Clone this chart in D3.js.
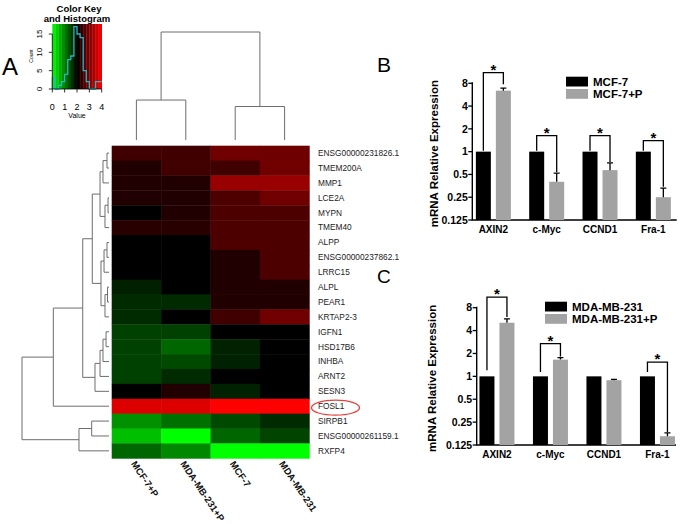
<!DOCTYPE html>
<html><head><meta charset="utf-8">
<script src="https://cdn.jsdelivr.net/npm/d3@7"></script>
<style>body{margin:0;background:#fff} svg{display:block} text{font-family:"Liberation Sans",Arial,sans-serif}</style>
</head><body><svg id="c" width="685" height="524"></svg>
<script>
// ---------------- DATA ----------------
const rowLabels = ["ENSG00000231826.1","TMEM200A","MMP1","LCE2A","MYPN","TMEM40","ALPP","ENSG00000237862.1","LRRC15","ALPL","PEAR1","KRTAP2-3","IGFN1","HSD17B6","INHBA","ARNT2","SESN3","FOSL1","SIRPB1","ENSG00000261159.1","RXFP4"];
const colLabels = ["MCF-7+P","MDA-MB-231+P","MCF-7","MDA-MB-231"];
const heatValues = [
  [2.5, 2.5, 2.88, 2.86],
  [2.25, 2.5, 2.5, 2.88],
  [2.25, 2.25, 3.2, 3.2],
  [2.25, 2.25, 2.6, 2.88],
  [2.0, 2.25, 2.6, 2.6],
  [2.32, 2.32, 2.6, 2.6],
  [2.0, 2.0, 2.6, 2.6],
  [2.0, 2.0, 2.25, 2.6],
  [2.0, 2.0, 2.25, 2.6],
  [1.75, 2.0, 2.25, 2.25],
  [1.67, 1.67, 2.25, 2.25],
  [1.67, 2.0, 2.5, 2.88],
  [1.5, 1.5, 2.0, 2.0],
  [1.5, 1.2, 1.73, 2.0],
  [1.5, 1.42, 1.73, 2.0],
  [1.5, 1.67, 2.0, 2.0],
  [2.0, 2.25, 1.73, 2.0],
  [3.73, 3.73, 4.0, 4.0],
  [0.87, 1.12, 1.42, 1.67],
  [0.5, 0.0, 1.2, 1.47],
  [1.2, 0.93, 0.0, 0.0]
];
// row dendrogram: [mergeHeight, left, right]; leaves are row indices
const rowTree = [10,
  [6.4,
    [3.02,
      [1.92,
        [1.03, [0.69, [0.23, 0, 1], 2], [0.46, [0.11, 3, 4], 5]],
        [0.92, [0.57, [0.23, 6, 7], 8], [0.46, [0.17, 9, 10], 11]]
      ],
      [1.61, [1.03, [0.69, [0.34, 12, 13], 14], 15], 16]
    ],
    17
  ],
  [3.45, [1.99, 18, 19], 20]
];
const colTree = [10, [3.7, 0, 1], [3.1, 2, 3]];
const histBreaks = [0,0.25,0.5,0.75,1,1.25,1.5,1.75,2,2.25,2.5,2.75,3,3.25,3.5,3.75,4];
const histCounts = [3,0,1,2,4,8,9,17,15,14,5,2,0,0,2,2];
const keyTicksX = [0,1,2,3,4];
const keyTicksY = [0,5,10,15];

const geneCats = ["AXIN2","c-Myc","CCND1","Fra-1"];
const yTicksBar = [0.125,0.25,0.5,1,2,4,8];
const yTickLabels = ["0.125","0.25","0.5","1","2","4","8"];
// panel B
const mcf7 = [1,1,1,1];
const mcf7P = [6.4,0.40,0.57,0.25];
const mcf7PErr = [6.9,0.52,0.71,0.33];
const bBracket = [11.1,1.63,1.63,1.4];
const bLeftLeg = [1.03,1.03,1.03,1.03];
const bRightLeg = [7.8,0.54,0.73,0.345];
// panel C
const mda = [1,1,1,1];
const mdaP = [5.07,1.66,0.89,0.163];
const mdaPErr = [5.7,1.76,0.91,0.18];
const cBracket = [11.0,2.69,null,1.54];
const cLeftLeg = [1.2,1.14,null,1.14];
const cRightLeg = [6.05,1.82,null,0.186];

// ---------------- DRAW ----------------
const svg = d3.select("#c");

// ---- heatmap ----
const hx = d3.scaleBand().domain(d3.range(colLabels.length)).range([111.7, 309.3]);
const hy = d3.scaleBand().domain(d3.range(rowLabels.length)).range([145.7, 458.3]);
const heatColor = d3.scaleLinear().domain([0,2,4]).range(["#00ff00","#000000","#ff0000"]);

const gH = svg.append("g");
heatValues.forEach((row, i) => {
  row.forEach((v, j) => {
    gH.append("rect").attr("x", hx(j)).attr("y", hy(i))
      .attr("width", hx.bandwidth() + 0.4).attr("height", hy.bandwidth() + 0.4)
      .attr("fill", heatColor(v));
  });
});

// row labels
rowLabels.forEach((t, i) => {
  svg.append("text").attr("x", 318).attr("y", hy(i) + hy.bandwidth()/2)
    .attr("dy", "0.35em").attr("font-size", 8.3).attr("fill", "#222").text(t);
});
// FOSL1 ellipse
const fi = rowLabels.indexOf("FOSL1");
svg.append("ellipse").attr("cx", 335.5).attr("cy", hy(fi) + hy.bandwidth()/2 + 1.5)
  .attr("rx", 24).attr("ry", 7.5).attr("fill", "none").attr("stroke", "#e8403a").attr("stroke-width", 1.3);

// column labels
colLabels.forEach((t, j) => {
  svg.append("text")
    .attr("transform", `translate(${hx(j) + hx.bandwidth()/2 - 3},${462}) rotate(56)`)
    .attr("dy", "0.35em").attr("font-size", 9.5).attr("font-weight", "bold").attr("fill", "#111").text(t);
});

// ---- dendrograms ----
const rowH = d3.scaleLinear().domain([0, 10]).range([109, 22]);
const colH = d3.scaleLinear().domain([0, 10]).range([140, 32]);
const gD = svg.append("g").attr("stroke", "#6d6d6d").attr("stroke-width", 1).attr("fill", "none");

function drawRow(node) {
  if (typeof node === "number") return {p: hy(node) + hy.bandwidth()/2, h: 0};
  const [h, a, b] = node;
  const A = drawRow(a), B = drawRow(b);
  const x = rowH(h);
  gD.append("path").attr("d", `M${rowH(A.h)},${A.p}H${x}V${B.p}H${rowH(B.h)}`);
  return {p: (A.p + B.p)/2, h};
}
drawRow(rowTree);
function drawCol(node) {
  if (typeof node === "number") return {p: hx(node) + hx.bandwidth()/2, h: 0};
  const [h, a, b] = node;
  const A = drawCol(a), B = drawCol(b);
  const y = colH(h);
  gD.append("path").attr("d", `M${A.p},${colH(A.h)}V${y}H${B.p}V${colH(B.h)}`);
  return {p: (A.p + B.p)/2, h};
}
drawCol(colTree);

// ---- color key ----
const kx = d3.scaleLinear().domain([0, 4]).range([52.3, 101.7]);
const ky = d3.scaleLinear().domain([0, 15]).range([89, 34]);
const gK = svg.append("g");
for (let i = 0; i < histBreaks.length - 1; i++) {
  const a = histBreaks[i], b = histBreaks[i+1];
  gK.append("rect").attr("x", kx(a)).attr("y", 24).attr("width", kx(b) - kx(a) + 0.3)
    .attr("height", 89 - 24).attr("fill", heatColor((a + b)/2));
}
let hp = `M${kx(histBreaks[0])},${ky(0)}`;
histCounts.forEach((c, i) => { hp += `V${ky(c)}H${kx(histBreaks[i+1])}`; });
gK.append("path").attr("d", hp).attr("fill", "none").attr("stroke", "#27b5c4").attr("stroke-width", 1.3);
gK.append("path").attr("d", `M${kx(0)},89H${kx(4)}`).attr("stroke", "#000").attr("stroke-width", 0.8);
gK.append("path").attr("d", `M${kx(0)},89V${ky(15)}`).attr("stroke", "#000").attr("stroke-width", 0.8);
keyTicksX.forEach(v => {
  gK.append("line").attr("x1", kx(v)).attr("x2", kx(v)).attr("y1", 89).attr("y2", 92.5).attr("stroke", "#000").attr("stroke-width", 0.8);
  gK.append("text").attr("x", kx(v)).attr("y", 110).attr("text-anchor", "middle").attr("font-size", 9).text(v);
});
keyTicksY.forEach(v => {
  gK.append("line").attr("x1", kx(0)).attr("x2", kx(0) - 3.5).attr("y1", ky(v)).attr("y2", ky(v)).attr("stroke", "#000").attr("stroke-width", 0.8);
  gK.append("text").attr("transform", `translate(42,${ky(v)}) rotate(-90)`).attr("text-anchor", "middle").attr("font-size", 8).text(v);
});
gK.append("text").attr("transform", `translate(33,56) rotate(-90)`).attr("text-anchor", "middle").attr("font-size", 5).text("Count");
gK.append("text").attr("x", 77).attr("y", 118).attr("text-anchor", "middle").attr("font-size", 7).text("Value");
gK.append("text").attr("x", 79).attr("y", 11.5).attr("text-anchor", "middle").attr("font-size", 9.5).attr("font-weight", "bold").text("Color Key");
gK.append("text").attr("x", 77).attr("y", 21.5).attr("text-anchor", "middle").attr("font-size", 9.5).attr("font-weight", "bold").text("and Histogram");

// panel letters
svg.append("text").attr("x", 2).attr("y", 75).attr("font-size", 24).text("A");
svg.append("text").attr("x", 377).attr("y", 72).attr("font-size", 21).text("B");
svg.append("text").attr("x", 377).attr("y", 283).attr("font-size", 19).text("C");

// ---- bar charts ----
function barChart(o) {
  const g = svg.append("g");
  const y = d3.scaleLog().base(2).domain([0.125, 8]).range([o.y0, o.y1]);
  const x = d3.scaleBand().domain(geneCats).range(o.xr);
  const w = 15, gap = 5;
  g.append("path").attr("d", `M${o.ax},${y(8) - 1}V${o.y0}H${o.axr}`).attr("fill", "none").attr("stroke", "#000").attr("stroke-width", 1.4);
  yTicksBar.forEach((v, i) => {
    g.append("line").attr("x1", o.ax - 4).attr("x2", o.ax).attr("y1", y(v)).attr("y2", y(v)).attr("stroke", "#000").attr("stroke-width", 1.3);
    g.append("text").attr("x", o.ax - 4.5).attr("y", y(v)).attr("dy", "0.36em").attr("text-anchor", "end")
      .attr("font-size", 10.5).attr("font-weight", "bold").text(yTickLabels[i]);
  });
  g.append("text").attr("transform", `translate(${o.ylx},${(o.y0 + y(8))/2 + 2}) rotate(-90)`).attr("text-anchor", "middle")
    .attr("font-size", 11.5).attr("font-weight", "bold").text("mRNA Relative Expression");
  geneCats.forEach((c, i) => {
    const cx = x(c) + x.bandwidth()/2;
    const bx = cx - gap/2 - w, gx = cx + gap/2;
    g.append("rect").attr("x", bx).attr("y", y(o.ctrl[i])).attr("width", w).attr("height", o.y0 - y(o.ctrl[i])).attr("fill", "#000");
    g.append("rect").attr("x", gx).attr("y", y(o.trt[i])).attr("width", w).attr("height", o.y0 - y(o.trt[i])).attr("fill", "#a3a3a3");
    g.append("path").attr("d", `M${gx + w/2},${y(o.trt[i])}V${y(o.err[i])}M${gx + w/2 - 3},${y(o.err[i])}H${gx + w/2 + 3}`)
      .attr("stroke", "#000").attr("stroke-width", 1.3).attr("fill", "none");
    g.append("text").attr("x", cx).attr("y", o.y0 + 13).attr("text-anchor", "middle").attr("font-size", 10).attr("font-weight", "bold").text(c);
    if (o.br[i] != null) {
      const x1 = bx + w/2, x2 = gx + w/2, yb = y(o.br[i]);
      g.append("path").attr("d", `M${x1},${y(o.ll[i])}V${yb}H${x2}V${y(o.rl[i])}`).attr("fill", "none").attr("stroke", "#000").attr("stroke-width", 1.3);
      g.append("text").attr("x", (x1 + x2)/2).attr("y", yb + 2).attr("text-anchor", "middle").attr("font-size", 15).attr("font-weight", "bold").text("*");
    }
  });
  o.leg.forEach((t, k) => {
    g.append("rect").attr("x", o.lx).attr("y", o.ly + k*12.3).attr("width", 22).attr("height", 9.8).attr("fill", k ? "#a3a3a3" : "#000");
    g.append("text").attr("x", o.lx + 27).attr("y", o.ly + k*12.3 + 4.9).attr("dy", "0.36em").attr("font-size", 11.5).attr("font-weight", "bold").text(t);
  });
}
barChart({y0: 220, y1: 83.3, ax: 472.3, axr: 676.7, xr: [466.7, 680], ylx: 438,
  ctrl: mcf7, trt: mcf7P, err: mcf7PErr, br: bBracket, ll: bLeftLeg, rl: bRightLeg,
  leg: ["MCF-7","MCF-7+P"], lx: 566, ly: 76.7});
barChart({y0: 445, y1: 307.7, ax: 476.7, axr: 676, xr: [470.2, 684.2], ylx: 436,
  ctrl: mda, trt: mdaP, err: mdaPErr, br: cBracket, ll: cLeftLeg, rl: cRightLeg,
  leg: ["MDA-MB-231","MDA-MB-231+P"], lx: 545, ly: 301.7});
</script></body></html>
